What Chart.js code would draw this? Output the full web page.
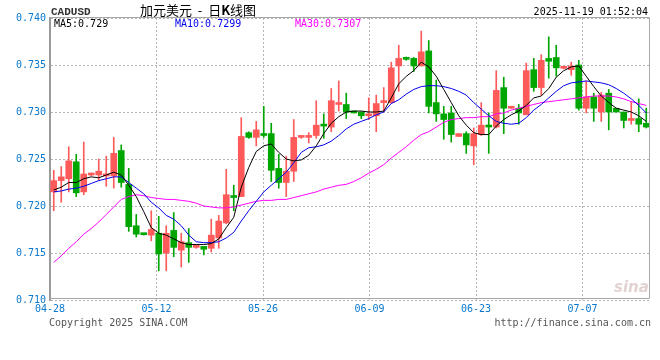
<!DOCTYPE html>
<html><head><meta charset="utf-8">
<script src="https://cdn.jsdelivr.net/npm/chart.js@4.4.1/dist/chart.umd.min.js"></script>
<style>
html,body{margin:0;padding:0;background:#fff;}
#wrap{position:relative;width:660px;height:360px;overflow:hidden;}
#c{position:absolute;left:0;top:0;}
.t{position:absolute;white-space:pre;font-family:"DejaVu Sans Mono",monospace;font-size:10px;line-height:12px;}
</style></head><body>
<div id="wrap">
<canvas id="c" width="660" height="360"></canvas>
<div class="t" style="left:51px;top:6px;font-family:'Liberation Mono';font-weight:bold;font-size:11px;color:#333">CADUSD</div>
<div class="t" style="left:140px;top:2px;font-family:'Noto Sans CJK SC';font-size:13px;line-height:16px;color:#000">加元美元  -  日<b>K</b>线图</div>
<div class="t" style="right:12px;top:6px;color:#000">2025-11-19 01:52:04</div>
<div class="t" id="l5" style="left:54px;top:18px;color:#000"></div>
<div class="t" id="l10" style="left:175px;top:18px;color:#0000ee"></div>
<div class="t" id="l30" style="left:295px;top:18px;color:#ff00ff"></div>
<div class="t" style="left:49px;top:317px;color:#555">Copyright 2025 SINA.COM</div>
<div class="t" style="right:9px;top:317px;color:#555">http://finance.sina.com.cn</div>
<div class="t" style="left:614px;top:279px;font-family:'DejaVu Sans';font-style:italic;font-weight:bold;font-size:15px;line-height:16px;color:rgba(200,165,165,0.5)">sina</div>
</div>
<script>
const xLabels = ['04-28','05-12','05-26','06-09','06-23','07-07'];
const yTicks = [0.710,0.715,0.720,0.725,0.730,0.735,0.740];

const openP = [0.7215,0.7227,0.7229,0.7247,0.7215,0.7233,0.7233,0.7232,0.7232,0.7259,
 0.7223,0.7179,0.7171,0.7169,0.7171,0.7150,0.7174,0.7153,0.7161,0.7156,
 0.7157,0.7155,0.7166,0.7182,0.7210,0.7210,0.7278,0.7273,0.72755,0.7277,
 0.7240,0.7225,0.7237,0.7273,0.7273,0.7275,0.72865,0.7284,0.7308,0.7308,
 0.7300,0.7300,0.7296,0.7296,0.7310,0.7310,0.7349,0.7358,0.7357,0.7349,
 0.7365,0.7310,0.7298,0.7299,0.7274,0.7277,0.7264,0.7276,0.7286,0.7284,
 0.7326,0.7304,0.7304,0.7297,0.7345,0.7326,0.7357,0.7358,0.73465,0.7345,
 0.7350,0.7304,0.7316,0.7300,0.7320,0.7304,0.7300,0.7291,0.7293,0.7288];
const highP = [0.7238,0.7242,0.7263,0.7255,0.7268,0.7235,0.7250,0.7253,0.7273,0.7265,
 0.7240,0.7191,0.7171,0.7195,0.7189,0.7179,0.7193,0.7171,0.7176,0.7158,
 0.7157,0.7186,0.7190,0.7239,0.7222,0.7294,0.7279,0.7290,0.7306,0.7288,
 0.7255,0.7253,0.7292,0.7274,0.7278,0.7312,0.7298,0.7325,0.7333,0.7320,
 0.7300,0.7300,0.7315,0.7318,0.7326,0.7353,0.7371,0.73585,0.7358,0.7386,
 0.7376,0.7334,0.7306,0.7306,0.7277,0.7279,0.7283,0.7310,0.7299,0.7344,
 0.7337,0.7305,0.7308,0.7352,0.7357,0.7361,0.7380,0.7371,0.7347,0.7353,
 0.7355,0.7333,0.7320,0.7321,0.7324,0.7304,0.7300,0.7311,0.7314,0.7304];
const lowP = [0.7195,0.7204,0.7215,0.7210,0.7212,0.7232,0.7227,0.7221,0.7219,0.7220,
 0.7173,0.7167,0.7169,0.7163,0.7131,0.7131,0.7146,0.7135,0.7140,0.7155,
 0.7148,0.7151,0.7155,0.7181,0.7195,0.7210,0.7272,0.7264,0.7273,0.7226,
 0.7219,0.7210,0.7226,0.7272,0.7267,0.7272,0.7272,0.7279,0.7301,0.7293,
 0.7299,0.7293,0.7292,0.7279,0.7300,0.7309,0.7322,0.7355,0.7343,0.7349,
 0.7299,0.7290,0.7271,0.7268,0.7274,0.7256,0.7244,0.7275,0.7256,0.7283,
 0.7277,0.7304,0.7287,0.7297,0.7322,0.7318,0.7336,0.7338,0.7346,0.7339,
 0.7302,0.7299,0.7290,0.7290,0.7281,0.7300,0.7283,0.7287,0.7279,0.7283];
const closeP = [0.7227,0.7231,0.7248,0.7214,0.7234,0.7234,0.7237,0.72325,0.7256,0.7225,
 0.7178,0.7170,0.71695,0.7175,0.7149,0.7171,0.7156,0.7162,0.7156,0.7157,
 0.7154,0.7169,0.7184,0.7212,0.7209,0.7274,0.7273,0.7281,0.7275,0.7238,
 0.7225,0.7237,0.7273,0.72735,0.72736,0.7286,0.7285,0.7312,0.7310,0.7300,
 0.7299,0.7296,0.7298,0.7309,0.7311,0.7347,0.7357,0.7356,0.7349,0.7364,
 0.7306,0.7298,0.7292,0.7276,0.7277,0.7265,0.7277,0.7286,0.7284,0.7323,
 0.7304,0.73046,0.7299,0.7344,0.7326,0.7355,0.7354,0.7347,0.7347,0.7349,
 0.7304,0.7316,0.7304,0.7318,0.7300,0.7300,0.7291,0.72915,0.7287,0.7284];
const ma5 = [0.7217,0.7220,0.7225,0.7225,0.7229,0.7231,0.7230,0.7233,0.7236,0.7233,
 0.7222,0.7210,0.7194,0.7177,0.7171,0.7169,0.7165,0.7161,0.7159,0.7159,
 0.7159,0.7160,0.7165,0.7177,0.7188,0.7220,0.7241,0.7258,0.7264,0.7266,
 0.7257,0.7250,0.7248,0.7249,0.7254,0.7264,0.7277,0.7288,0.7295,0.7300,
 0.7301,0.7301,0.7300,0.7300,0.7301,0.7315,0.7330,0.7338,0.7344,0.7353,
 0.7348,0.7338,0.7324,0.7310,0.7296,0.7286,0.7278,0.7276,0.7276,0.7285,
 0.7292,0.7297,0.7301,0.7307,0.7315,0.7317,0.7325,0.7337,0.7344,0.7348,
 0.7349,0.7338,0.7327,0.7317,0.7310,0.7304,0.7302,0.7300,0.7296,0.7290];
const ma10 = [0.7215,0.7216,0.7218,0.7219,0.7221,0.7224,0.7227,0.7229,0.7231,0.7231,
 0.7225,0.7219,0.7213,0.7204,0.7198,0.7190,0.7186,0.7179,0.7169,0.7162,
 0.7161,0.7161,0.7162,0.7166,0.7172,0.7184,0.7195,0.7205,0.7215,0.7222,
 0.7229,0.7236,0.7246,0.7257,0.7262,0.7263,0.7265,0.7269,0.7275,0.7282,
 0.7287,0.7290,0.7293,0.7297,0.7300,0.7309,0.7313,0.7319,0.7324,0.7327,
 0.7328,0.7328,0.7327,0.7325,0.7322,0.7318,0.7310,0.7303,0.7296,0.7290,
 0.7288,0.7287,0.7288,0.7294,0.7302,0.7308,0.7315,0.7322,0.7328,0.7331,
 0.7332,0.7333,0.7332,0.7331,0.7329,0.7325,0.7320,0.7314,0.7307,0.7299];
const ma30 = [0.7140,0.7147,0.7155,0.7162,0.7170,0.7176,0.7183,0.7191,0.7199,0.7207,
 0.7210,0.7212,0.7211,0.7209,0.7208,0.7207,0.7207,0.7206,0.7205,0.7203,
 0.7200,0.7199,0.7198,0.7198,0.7199,0.7201,0.7203,0.7205,0.7206,0.7206,
 0.7207,0.7207,0.7209,0.7211,0.7213,0.7215,0.7218,0.7220,0.7222,0.7223,
 0.7226,0.7230,0.7235,0.7239,0.7244,0.7251,0.7257,0.7263,0.7270,0.7276,
 0.7279,0.7284,0.7289,0.7292,0.7293,0.7294,0.7294,0.7295,0.7295,0.7298,
 0.7299,0.7302,0.7304,0.7306,0.7308,0.7310,0.7311,0.7312,0.7313,0.7314,
 0.7315,0.7316,0.7317,0.7317,0.7317,0.7316,0.7314,0.7311,0.7309,0.7307];

const UP = '#ff5a5a', DOWN = '#00a600';
const TICK_STEP = 14.2;
const n = openP.length;
const idx = openP.map((_, i) => i);
const colors = idx.map(i => closeP[i] >= openP[i] ? UP : DOWN);
const fmt = v => String(+v.toFixed(4));
document.getElementById('l5').textContent = 'MA5:' + fmt(ma5[n-1]);
document.getElementById('l10').textContent = 'MA10:' + fmt(ma10[n-1]);
document.getElementById('l30').textContent = 'MA30:' + fmt(ma30[n-1]);

const frame = {
  id: 'frame',
  afterDraw(chart) {
    const {ctx, chartArea: a} = chart;
    ctx.save();
    ctx.strokeStyle = '#a8a8a8';
    ctx.lineWidth = 1;
    ctx.beginPath();
    ctx.moveTo(a.left, a.top - 0.5); ctx.lineTo(a.right - 0.5, a.top - 0.5);
    ctx.lineTo(a.right - 0.5, a.bottom - 1.5); ctx.lineTo(a.left, a.bottom - 1.5);
    ctx.stroke();
    ctx.restore();
  }
};

const lineDs = (label, arr, color) => ({
  type: 'line', label, data: idx.map(i => ({x: i, y: arr[i]})),
  borderColor: color, borderWidth: 1, pointRadius: 0, tension: 0, order: 0, fill: false
});

new Chart(document.getElementById('c'), {
  type: 'bar',
  data: {
    datasets: [
      {label: 'wick', data: idx.map(i => ({x: i, y: [lowP[i], highP[i]]})),
       backgroundColor: colors, barThickness: 1, grouped: false, order: 2, minBarLength: 1},
      {label: 'body', data: idx.map(i => ({x: i, y: [openP[i], closeP[i]]})),
       backgroundColor: colors, barThickness: 6, grouped: false, order: 1, minBarLength: 2},
      lineDs('MA5', ma5, '#000000'),
      lineDs('MA10', ma10, '#0000ee'),
      lineDs('MA30', ma30, '#ff00ff')
    ]
  },
  options: {
    responsive: false, animation: false, events: [],
    layout: {padding: {top: 18, right: 10, bottom: 40, left: 0}},
    plugins: {legend: {display: false}, tooltip: {enabled: false}},
    scales: {
      x: {
        type: 'linear', min: -0.5, max: n - 0.5, offset: false,
        afterFit: s => { s.height = 20; },
        afterBuildTicks: s => { s.ticks = xLabels.map((_, k) => ({value: -0.5 + k * TICK_STEP})); },
        ticks: {autoSkip: false, maxRotation: 0, padding: 3, color: '#0a78cc',
          font: {family: 'DejaVu Sans Mono', size: 10},
          callback: (v, k) => xLabels[k]},
        grid: {color: '#b4b4b4', drawTicks: false, offset: false},
        border: {display: false, dash: [2, 2]}
      },
      y: {
        type: 'linear', position: 'left', min: yTicks[0], max: yTicks[yTicks.length - 1],
        afterFit: s => { s.width = 50; },
        afterBuildTicks: s => { s.ticks = yTicks.map(v => ({value: v})); },
        ticks: {padding: 4, color: '#0a78cc', font: {family: 'DejaVu Sans Mono', size: 10},
          callback: v => v.toFixed(3)},
        grid: {color: '#b4b4b4', drawTicks: false},
        border: {display: true, color: '#9a9a9a', width: 2, dash: [2, 2]}
      }
    }
  },
  plugins: [frame]
});
</script>
</body></html>
